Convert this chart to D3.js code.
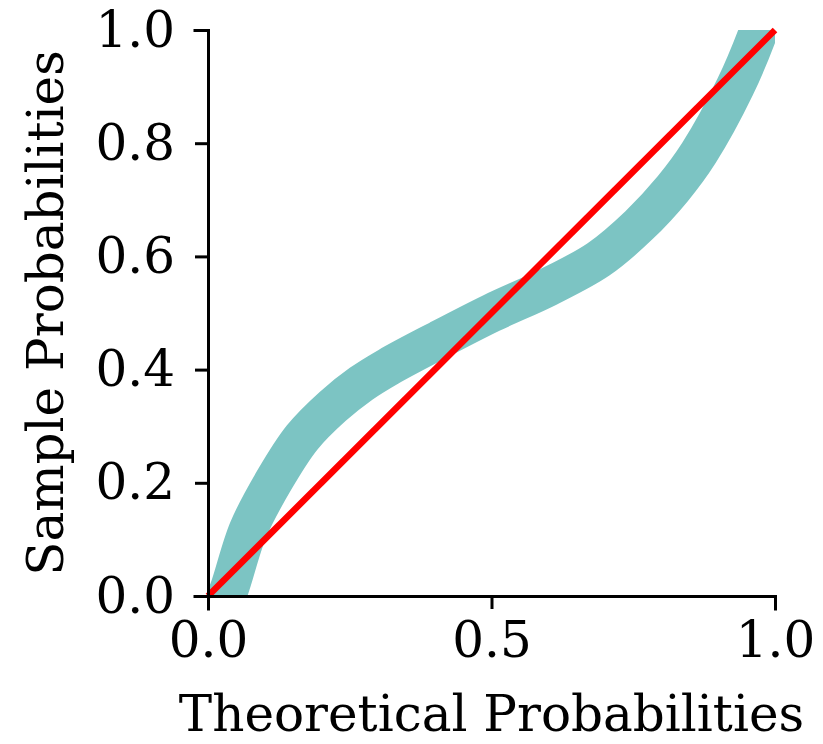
<!DOCTYPE html>
<html>
<head>
<meta charset="utf-8">
<script src="https://cdn.jsdelivr.net/npm/d3@7"></script>
<style>
  body { margin: 0; background: #fff; }
  svg { display: block; }
</style>
</head>
<body>
<div id="chart"></div>
<script>
(function() {
  'use strict'

  // values
  var theoretical = [0.02, 0.037, 0.071, 0.117, 0.166, 0.22, 0.27, 0.318, 0.406, 0.5, 0.6, 0.689, 0.76, 0.82, 0.866, 0.93, 0.97, 0.985];
  var sample      = [-0.03, 0.011, 0.117, 0.205, 0.28, 0.335, 0.375, 0.405, 0.452, 0.5, 0.546, 0.595, 0.655, 0.72, 0.783, 0.90, 0.995, 1.04];
  var refLine = [0, 1];
  var xTicks = [0, 0.5, 1];
  var yTicks = [0, 0.2, 0.4, 0.6, 0.8, 1];

  var width = 823, height = 744;
  var margin = { top: 30, left: 208 };
  var plotW = 567, plotH = 566;
  var font = '"DejaVu Serif", serif';
  var fontSize = 50;

  var svg = d3.select('#chart').append('svg')
    .attr('width', width)
    .attr('height', height);

  var x = d3.scaleLinear().domain([0, 1]).range([0, plotW]);
  var y = d3.scaleLinear().domain([0, 1]).range([plotH, 0]);

  var g = svg.append('g')
    .attr('transform', 'translate(' + margin.left + ',' + margin.top + ')');

  g.append('clipPath').attr('id', 'plotclip')
    .append('rect').attr('x', 0).attr('y', 0).attr('width', plotW).attr('height', plotH);

  var points = theoretical.map(function(t, i) { return [t, sample[i]]; });

  g.append('path')
    .datum(points)
    .attr('clip-path', 'url(#plotclip)')
    .attr('fill', 'none')
    .attr('stroke', '#7cc4c3')
    .attr('stroke-width', 39)
    .attr('stroke-linecap', 'butt')
    .attr('d', d3.line()
      .x(function(d) { return x(d[0]); })
      .y(function(d) { return y(d[1]); })
      .curve(d3.curveCatmullRom.alpha(0.5)));

  g.append('line')
    .attr('x1', x(refLine[0])).attr('y1', y(refLine[0]))
    .attr('x2', x(refLine[1])).attr('y2', y(refLine[1]))
    .attr('stroke', '#ff0000')
    .attr('stroke-width', 6.5);

  var xAxis = g.append('g')
    .attr('transform', 'translate(0,' + plotH + ')')
    .call(d3.axisBottom(x).tickValues(xTicks).tickFormat(d3.format('.1f'))
      .tickSizeOuter(0).tickSize(13).tickPadding(12));

  var yAxis = g.append('g')
    .call(d3.axisLeft(y).tickValues(yTicks).tickFormat(d3.format('.1f'))
      .tickSizeOuter(0).tickSize(13).tickPadding(20));

  [xAxis, yAxis].forEach(function(ax) {
    ax.select('.domain').attr('stroke', '#000').attr('stroke-width', 3).attr('stroke-linecap', 'square');
    ax.selectAll('.tick line').attr('stroke', '#000').attr('stroke-width', 3);
    ax.selectAll('.tick text')
      .attr('fill', '#000')
      .attr('font-family', font)
      .attr('font-size', fontSize);
  });

  svg.append('text')
    .attr('x', margin.left + plotW / 2)
    .attr('y', 731)
    .attr('text-anchor', 'middle')
    .attr('font-family', font)
    .attr('font-size', fontSize)
    .attr('fill', '#000')
    .text('Theoretical Probabilities');

  svg.append('text')
    .attr('transform', 'translate(63,' + (margin.top + plotH / 2) + ') rotate(-90)')
    .attr('text-anchor', 'middle')
    .attr('font-family', font)
    .attr('font-size', fontSize)
    .attr('fill', '#000')
    .text('Sample Probabilities');

})();
</script>
</body>
</html>
